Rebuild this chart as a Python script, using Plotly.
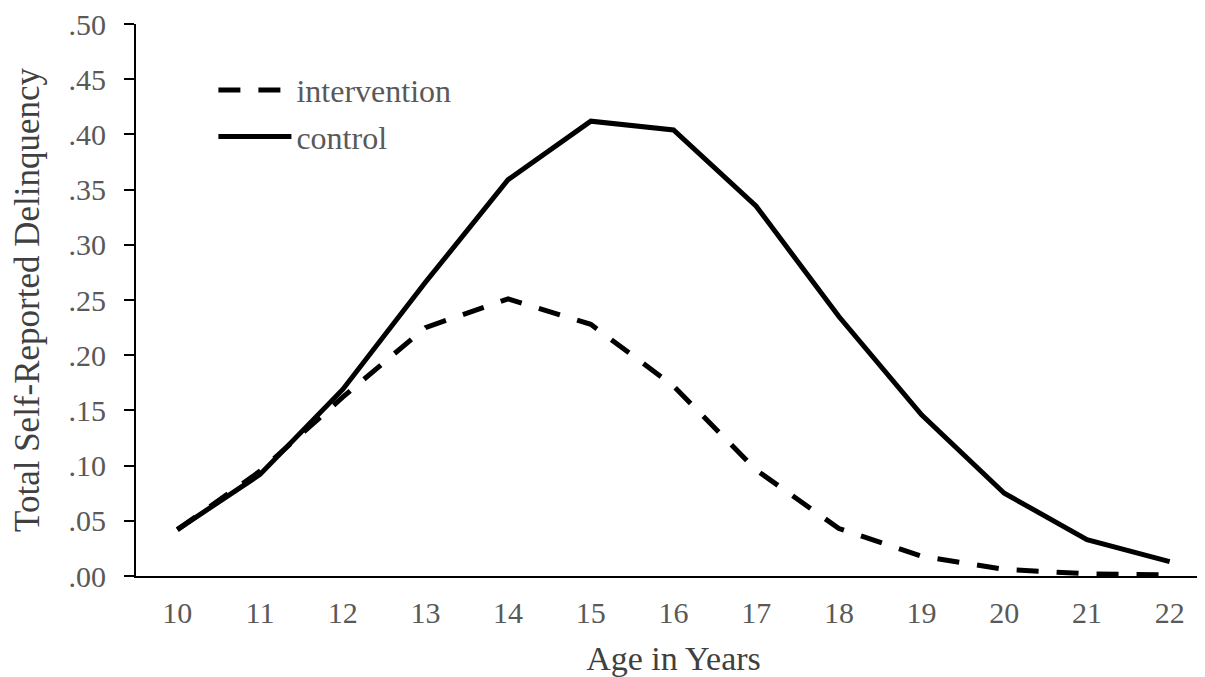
import plotly.graph_objects as go

ages = [10, 11, 12, 13, 14, 15, 16, 17, 18, 19, 20, 21, 22]
intervention = [0.042, 0.095, 0.162, 0.225, 0.251, 0.228, 0.172, 0.096, 0.043, 0.018, 0.006, 0.002, 0.001]
control = [0.042, 0.092, 0.169, 0.266, 0.359, 0.412, 0.404, 0.335, 0.235, 0.146, 0.075, 0.033, 0.013]
y_ticks = [0, 0.05, 0.10, 0.15, 0.20, 0.25, 0.30, 0.35, 0.40, 0.45, 0.50]
y_labels = [".00", ".05", ".10", ".15", ".20", ".25", ".30", ".35", ".40", ".45", ".50"]

FONT = "Liberation Serif"
fig = go.Figure()
fig.add_trace(go.Scatter(x=ages, y=intervention, mode="lines", name="intervention",
                         legendgroup="a",
                         line=dict(color="black", width=5, dash="22px,18px")))
fig.add_trace(go.Scatter(x=ages, y=control, mode="lines", name="control",
                         legendgroup="b",
                         line=dict(color="black", width=5)))

fig.update_layout(
    width=1205, height=677,
    margin=dict(l=128, r=2, t=16, b=109),
    plot_bgcolor="white", paper_bgcolor="white",
    font=dict(family=FONT, size=30, color="#595959"),
    showlegend=True,
    legend=dict(x=0.072, y=0.93, xanchor="left", yanchor="top",
                bgcolor="rgba(0,0,0,0)", itemwidth=73,
                font=dict(family=FONT, size=32, color="#595959"),
                tracegroupgap=2, itemsizing="constant"),
    xaxis=dict(range=[9.5, 22.5], tickvals=ages, ticktext=[str(a) for a in ages],
               showgrid=False, zeroline=False, showline=True, linecolor="black", linewidth=2,
               ticks="", ticklabelstandoff=9, automargin=False, ticklabeloverflow="allow",
               tickfont=dict(family=FONT, size=30, color="#595959"),
               title=dict(text="Age in Years", font=dict(family=FONT, size=34, color="#404040"),
                          standoff=18)),
    yaxis=dict(range=[0, 0.5], tickvals=y_ticks, ticktext=y_labels,
               showgrid=False, zeroline=False, showline=True, linecolor="black", linewidth=2,
               ticks="outside", ticklen=10, tickwidth=2, tickcolor="black",
               ticklabelstandoff=12, automargin=False, ticklabeloverflow="allow",
               tickfont=dict(family=FONT, size=30, color="#595959"),
               title=dict(text="Total Self-Reported Delinquency",
                          font=dict(family=FONT, size=35, color="#404040"), standoff=28)),
)
fig.write_html("out.html")
